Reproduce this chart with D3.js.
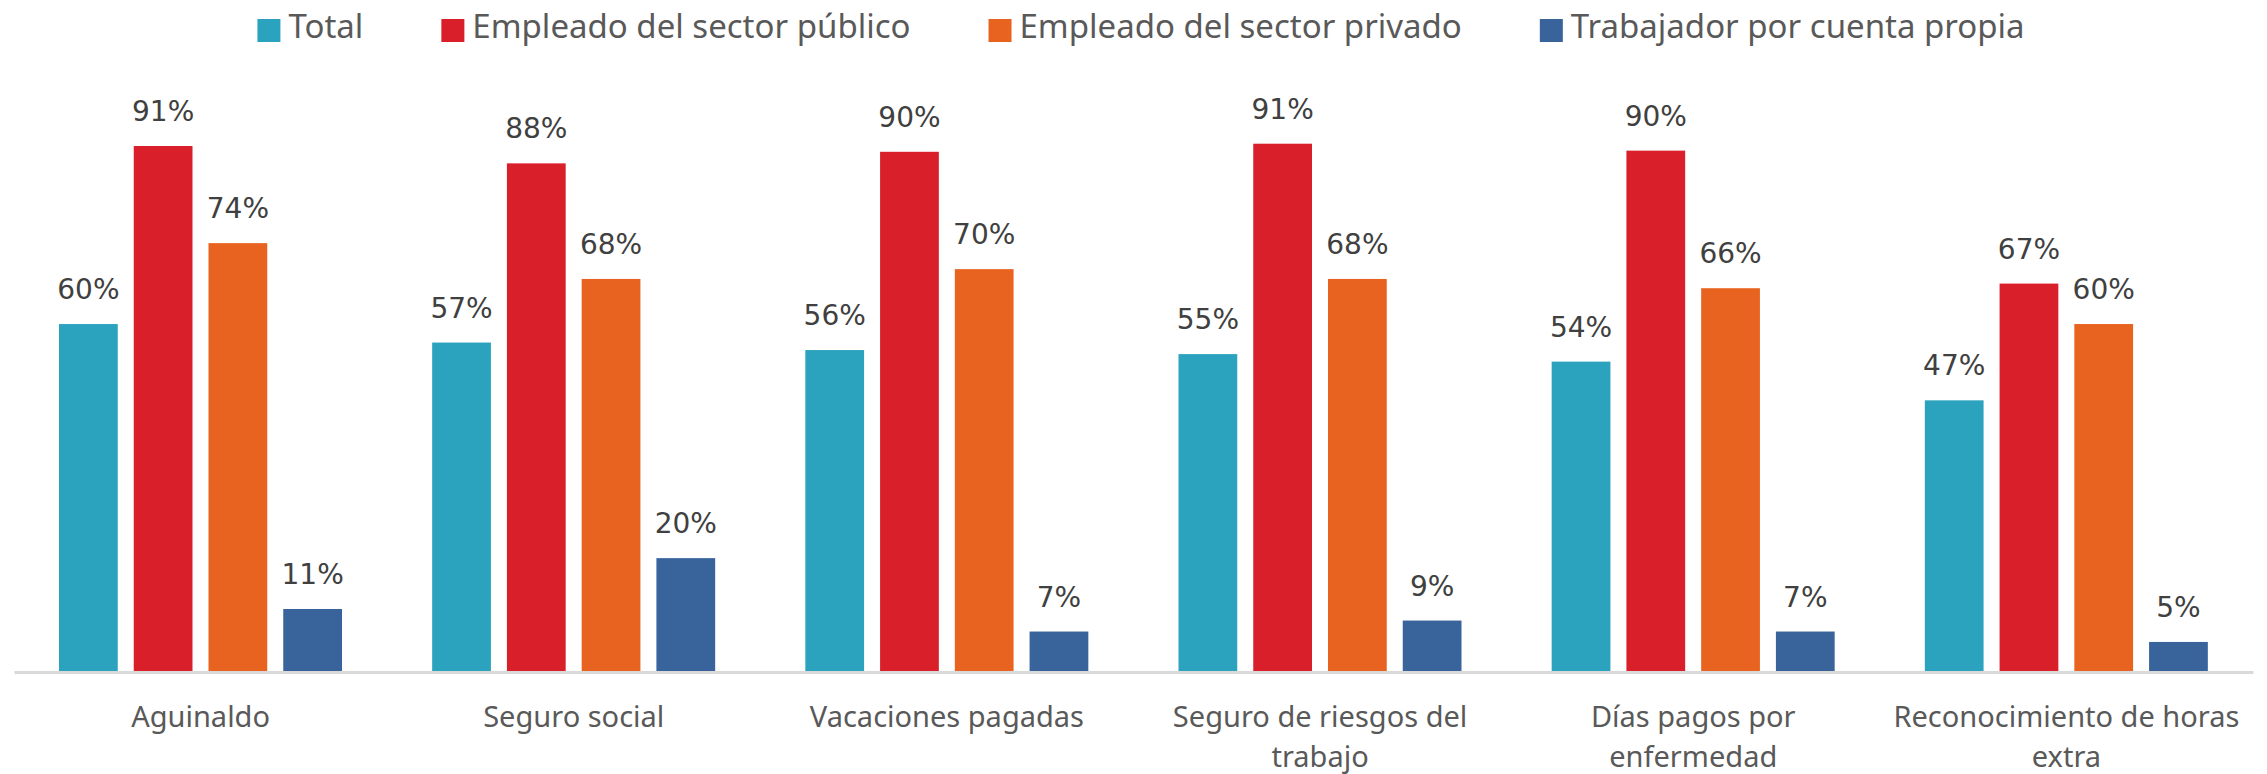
<!DOCTYPE html>
<html>
<head>
<meta charset="utf-8">
<script src="https://cdn.jsdelivr.net/npm/d3@7"></script>
<style>
  body { margin: 0; background: #fff; }
  svg { display: block; }
</style>
</head>
<body>
<svg id="chart" width="2267" height="774"></svg>
<script>
const categories = [
    "Aguinaldo",
    "Seguro social",
    "Vacaciones pagadas",
    "Seguro de riesgos del trabajo",
    "Días pagos por enfermedad",
    "Reconocimiento de horas extra"
];
const series = [
    "Total",
    "Empleado del sector público",
    "Empleado del sector privado",
    "Trabajador por cuenta propia"
];
const total = [60.2, 57.0, 55.7, 55.0, 53.7, 47.0];
const publico = [91.0, 88.0, 90.0, 91.4, 90.2, 67.2];
const privado = [74.2, 68.0, 69.7, 68.0, 66.4, 60.2];
const propia = [10.9, 19.7, 7.0, 8.9, 7.0, 5.2];
const colors = ["#2ba3bf", "#d91f2a", "#e8631f", "#38639b"];

let ctx = {
    w: 2267,
    h: 774,
    left: 14,
    right: 2253,
    base: 672,
    top100: 94
};

let values = [total, publico, privado, propia];
let rows = categories.map((c, i) => ({
    cat: c,
    vals: series.map((s, j) => ({ key: s, idx: j, v: values[j][i] }))
}));

let svg = d3.select("#chart");

/* scales */
let x0 = d3.scaleBand()
    .domain(categories)
    .range([ctx.left, ctx.right]);

let x1 = d3.scaleBand()
    .domain(series)
    .range([45, 328])
    .paddingInner(0.214);

let y = d3.scaleLinear()
    .domain([0, 100])
    .range([ctx.base, ctx.top100]);

/* bars */
let groups = svg.append("g").attr("id", "bars")
    .selectAll("g")
    .data(rows)
    .join("g")
    .attr("transform", d => "translate(" + x0(d.cat) + ",0)");

groups.selectAll("rect")
    .data(d => d.vals)
    .join("rect")
    .attr("x", d => x1(d.key))
    .attr("width", x1.bandwidth())
    .attr("y", d => y(d.v))
    .attr("height", d => y(0) - y(d.v))
    .style("fill", d => colors[d.idx]);

groups.selectAll("text")
    .data(d => d.vals)
    .join("text")
    .attr("x", d => x1(d.key) + x1.bandwidth() / 2)
    .attr("y", d => y(d.v) - 25)
    .attr("text-anchor", "middle")
    .style("font-family", "DejaVu Sans")
    .style("font-size", "28px")
    .style("fill", "#404040")
    .text(d => Math.round(d.v) + "%");

/* x axis */
let axis = svg.append("g")
    .attr("id", "axis-x")
    .attr("transform", "translate(0," + ctx.base + ")")
    .call(d3.axisBottom(x0).tickSize(0).tickPadding(0));

axis.select(".domain")
    .attr("stroke", "#d9d9d9")
    .attr("stroke-width", 3);

axis.selectAll(".tick text")
    .style("font-family", "Noto Sans")
    .style("font-size", "29px")
    .style("fill", "#595959")
    .attr("y", 55)
    .attr("dy", 0)
    .call(wrap, 360);

function wrap(texts, width) {
    texts.each(function () {
        let text = d3.select(this);
        let words = text.text().split(" ");
        let line = [];
        let lineNo = 0;
        let yy = text.attr("y");
        text.text(null);
        let tspan = text.append("tspan").attr("x", 0).attr("y", yy);
        words.forEach(w => {
            line.push(w);
            tspan.text(line.join(" "));
            if (tspan.node().getComputedTextLength() > width && line.length > 1) {
                line.pop();
                tspan.text(line.join(" "));
                line = [w];
                lineNo++;
                tspan = text.append("tspan").attr("x", 0).attr("y", +yy + lineNo * 40).text(w);
            }
        });
    });
}

/* legend */
let legend = svg.append("g").attr("id", "legend");
let items = legend.selectAll("g")
    .data(series)
    .join("g");

items.append("rect")
    .attr("width", 23)
    .attr("height", 23)
    .attr("y", 19)
    .style("fill", (d, i) => colors[i]);

items.append("text")
    .attr("x", 31)
    .attr("y", 38)
    .style("font-family", "Noto Sans")
    .style("font-size", "33px")
    .style("fill", "#595959")
    .text(d => d);

let pos = 0;
items.each(function () {
    let g = d3.select(this);
    g.attr("transform", "translate(" + pos + ",0)");
    pos += 31 + g.select("text").node().getComputedTextLength() + 78;
});
let legendW = pos - 78;
legend.attr("transform", "translate(" + (1141 - legendW / 2) + ",0)");
</script>
</body>
</html>
